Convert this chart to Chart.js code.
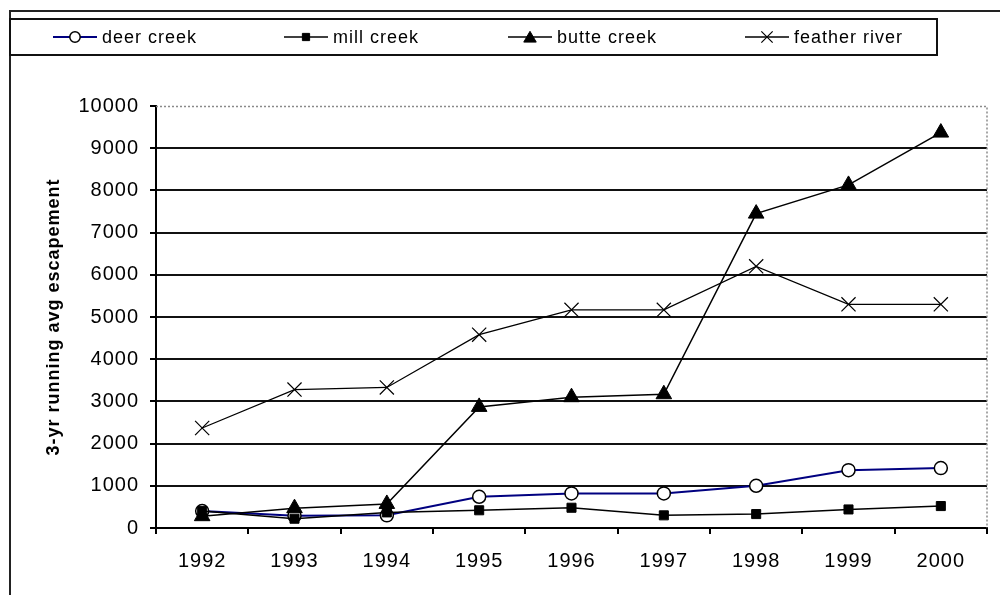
<!DOCTYPE html>
<html>
<head>
<meta charset="utf-8">
<script src="https://cdn.jsdelivr.net/npm/chart.js@4/dist/chart.umd.min.js"></script>
<style>
  html, body { margin: 0; padding: 0; background: #fff; }
  #wrap { width: 1000px; height: 595px; position: relative; }
</style>
</head>
<body>
<div id="wrap"><canvas id="c" width="1000" height="595"></canvas></div>
<script>
// Spring-run escapement, 3-year running averages
const years = ['1992', '1993', '1994', '1995', '1996', '1997', '1998', '1999', '2000'];
const deerCreek    = [400, 290, 300, 740, 820, 820, 1000, 1370, 1420];
const millCreek    = [400, 220, 370, 420, 480, 300, 330, 440, 520];
const butteCreek   = [280, 470, 570, 2870, 3100, 3170, 7450, 8130, 9370];
const featherRiver = [2370, 3280, 3330, 4580, 5170, 5170, 6200, 5300, 5300];
const seriesNames  = ['deer creek', 'mill creek', 'butte creek', 'feather river'];
const yAxisTitle   = '3-yr running avg escapement';
const yMin = 0, yMax = 10000, yStep = 1000;

const FONT = "'Liberation Sans', Arial, sans-serif";
Chart.defaults.font.family = FONT;
Chart.defaults.color = '#000';

// marker drawing for the legend samples (same geometry as Chart.js point styles)
function drawMarker(ctx, style, x, y, r, fill, stroke, lw) {
  ctx.save();
  ctx.fillStyle = fill;
  ctx.strokeStyle = stroke;
  ctx.lineWidth = lw;
  ctx.beginPath();
  if (style === 'circle') {
    ctx.arc(x, y, r, 0, Math.PI * 2);
    ctx.fill(); ctx.stroke();
  } else if (style === 'rect') {
    const s = r * Math.SQRT1_2;
    ctx.rect(x - s, y - s, 2 * s, 2 * s);
    ctx.fill(); ctx.stroke();
  } else if (style === 'triangle') {
    ctx.moveTo(x, y - r);
    ctx.lineTo(x + r * 0.866, y + r * 0.5);
    ctx.lineTo(x - r * 0.866, y + r * 0.5);
    ctx.closePath();
    ctx.fill(); ctx.stroke();
  } else if (style === 'crossRot') {
    const d = r * Math.SQRT1_2;
    ctx.moveTo(x - d, y - d); ctx.lineTo(x + d, y + d);
    ctx.moveTo(x + d, y - d); ctx.lineTo(x - d, y + d);
    ctx.stroke();
  }
  ctx.restore();
}

// outer frame, legend box and plot-area border
const framePlugin = {
  id: 'frame',
  beforeDraw(chart) {
    const ctx = chart.ctx;
    ctx.letterSpacing = '1px';
    ctx.save();
    ctx.strokeStyle = '#222';
    ctx.lineWidth = 2;
    ctx.beginPath();
    ctx.moveTo(10, 595); ctx.lineTo(10, 11); ctx.lineTo(1000, 11);
    ctx.stroke();
    ctx.restore();
  },
  beforeDatasetsDraw(chart) {
    const { ctx, chartArea: a } = chart;
    ctx.save();
    ctx.strokeStyle = '#8a8a8a';
    ctx.lineWidth = 1.5;
    ctx.setLineDash([2, 2]);
    ctx.beginPath();
    ctx.moveTo(a.left, a.top + 0.5); ctx.lineTo(a.right, a.top + 0.5); ctx.lineTo(a.right, a.bottom);
    ctx.stroke();
    ctx.restore();
  },
  afterDraw(chart) {
    const ctx = chart.ctx;
    ctx.save();
    ctx.strokeStyle = '#111';
    ctx.lineWidth = 2;
    ctx.strokeRect(10, 19, 927, 36);
    const starts = [53, 284, 508, 745];
    const lineLen = 44, cy = 37;
    ctx.font = '18px ' + FONT;
    ctx.textBaseline = 'middle';
    ctx.textAlign = 'left';
    ctx.letterSpacing = '1px';
    chart.data.datasets.forEach((ds, i) => {
      const x0 = starts[i];
      ctx.strokeStyle = ds.borderColor;
      ctx.lineWidth = ds.borderWidth;
      ctx.beginPath();
      ctx.moveTo(x0, cy); ctx.lineTo(x0 + lineLen, cy);
      ctx.stroke();
      drawMarker(ctx, ds.pointStyle, x0 + lineLen / 2, cy + (ds.pointStyle === 'triangle' ? 1.5 : 0),
                 ds.pointRadius * 0.8, ds.pointBackgroundColor, ds.pointBorderColor, ds.pointBorderWidth);
      ctx.fillStyle = '#000';
      ctx.fillText(ds.label, x0 + lineLen + 5, cy + 1);
    });
    ctx.restore();
  }
};

new Chart(document.getElementById('c'), {
  type: 'line',
  data: {
    labels: years,
    datasets: [
      { label: seriesNames[0], data: deerCreek, borderColor: '#000080', borderWidth: 2,
        pointStyle: 'circle', pointRadius: 6.5, pointBackgroundColor: '#fff',
        pointBorderColor: '#000', pointBorderWidth: 1.5, order: 4 },
      { label: seriesNames[1], data: millCreek, borderColor: '#000', borderWidth: 1.5,
        pointStyle: 'rect', pointRadius: 6.4, pointBackgroundColor: '#000',
        pointBorderColor: '#000', pointBorderWidth: 1, order: 3 },
      { label: seriesNames[2], data: butteCreek, borderColor: '#000', borderWidth: 1.5,
        pointStyle: 'triangle', pointRadius: 9, pointBackgroundColor: '#000',
        pointBorderColor: '#000', pointBorderWidth: 1, order: 2 },
      { label: seriesNames[3], data: featherRiver, borderColor: '#000', borderWidth: 1.3,
        pointStyle: 'crossRot', pointRadius: 10, pointBackgroundColor: '#000',
        pointBorderColor: '#000', pointBorderWidth: 1.2, order: 1 }
    ]
  },
  options: {
    responsive: false,
    devicePixelRatio: 1,
    animation: false,
    layout: { padding: { left: 0, top: 106, right: 13, bottom: 0 } },
    elements: { line: { tension: 0, fill: false } },
    plugins: { legend: { display: false }, tooltip: { enabled: false } },
    scales: {
      x: {
        type: 'category',
        offset: true,
        grid: { offset: true, drawOnChartArea: false, drawTicks: true, tickLength: 6,
                color: '#000', lineWidth: 2 },
        border: { display: true, color: '#000', width: 2 },
        ticks: { font: { size: 20 }, color: '#000', padding: 15, maxRotation: 0, autoSkip: false },
        afterFit(s) { s.height = 67; }
      },
      y: {
        min: yMin, max: yMax,
        ticks: { stepSize: yStep, font: { size: 20 }, color: '#000', padding: 11,
                 callback: v => String(v) },
        grid: {
          color: c => (c.tick && c.tick.value === yMax) ? 'rgba(0,0,0,0)' : '#111',
          tickColor: '#000', lineWidth: 2, tickLength: 6
        },
        border: { display: true, color: '#000', width: 2 },
        title: { display: true, text: yAxisTitle, color: '#000',
                 font: { size: 18, weight: 'bold' }, padding: { top: 43, bottom: 0 } },
        afterFit(s) { s.width = 156; }
      }
    }
  },
  plugins: [framePlugin]
});
</script>
</body>
</html>
